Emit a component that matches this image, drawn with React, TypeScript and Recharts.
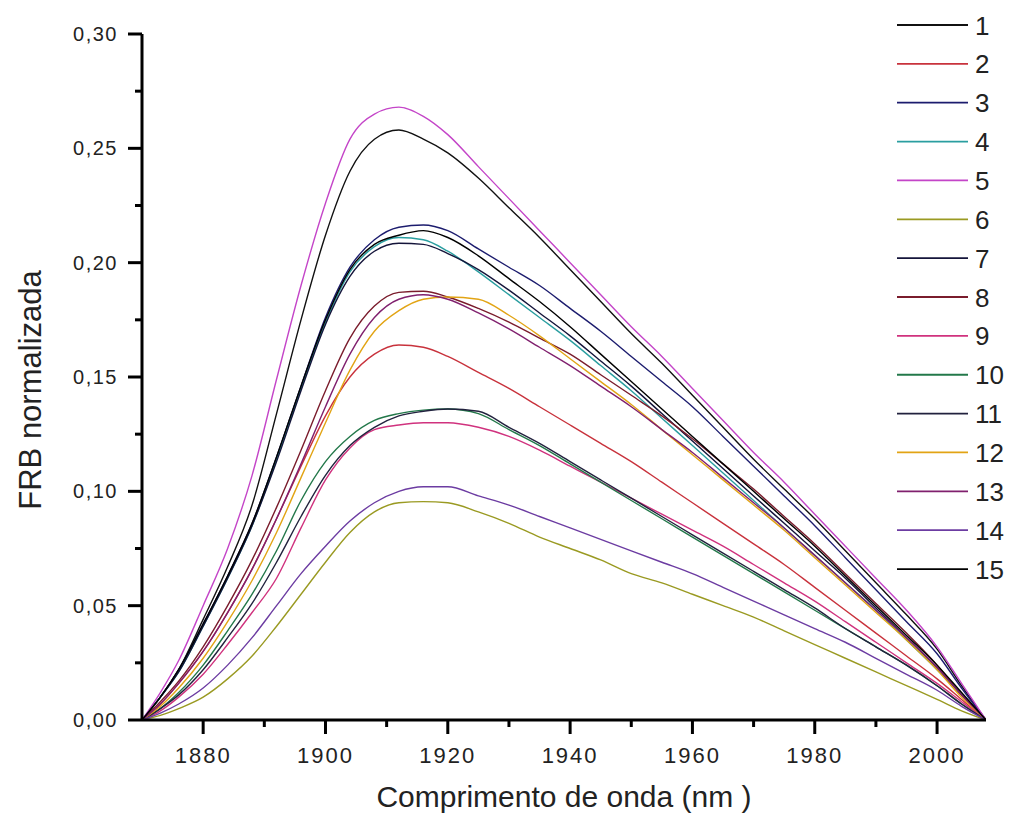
import React from 'react';
import { LineChart, Line, XAxis, YAxis, Legend, Label } from 'recharts';

const wavelengths = [1870, 1873, 1876, 1880, 1884, 1888, 1892, 1896, 1900, 1904, 1908, 1912, 1916, 1920, 1925, 1930, 1935, 1940, 1945, 1950, 1955, 1960, 1965, 1970, 1975, 1980, 1985, 1990, 1995, 2000, 2004, 2008];

const s1 = [0, 0.010, 0.022, 0.044, 0.067, 0.094, 0.134, 0.175, 0.212, 0.240, 0.254, 0.258, 0.254, 0.248, 0.237, 0.224, 0.211, 0.197, 0.183, 0.169, 0.156, 0.142, 0.128, 0.114, 0.101, 0.088, 0.074, 0.060, 0.046, 0.031, 0.015, 0];
const s2 = [0, 0.007, 0.016, 0.030, 0.047, 0.066, 0.088, 0.111, 0.133, 0.150, 0.160, 0.164, 0.163, 0.159, 0.152, 0.145, 0.137, 0.129, 0.121, 0.113, 0.104, 0.095, 0.086, 0.077, 0.068, 0.058, 0.048, 0.038, 0.028, 0.018, 0.009, 0];
const s3 = [0, 0.010, 0.022, 0.042, 0.063, 0.086, 0.115, 0.146, 0.176, 0.198, 0.210, 0.2155, 0.2165, 0.214, 0.206, 0.198, 0.190, 0.180, 0.170, 0.159, 0.148, 0.137, 0.124, 0.111, 0.098, 0.085, 0.071, 0.057, 0.043, 0.029, 0.014, 0];
const s4 = [0, 0.010, 0.021, 0.041, 0.062, 0.085, 0.114, 0.145, 0.174, 0.196, 0.207, 0.211, 0.210, 0.205, 0.196, 0.186, 0.176, 0.166, 0.155, 0.144, 0.132, 0.120, 0.108, 0.096, 0.084, 0.072, 0.060, 0.048, 0.035, 0.022, 0.011, 0];
const s5 = [0, 0.012, 0.026, 0.050, 0.075, 0.107, 0.149, 0.190, 0.226, 0.254, 0.265, 0.268, 0.264, 0.256, 0.242, 0.228, 0.214, 0.200, 0.186, 0.172, 0.159, 0.145, 0.131, 0.117, 0.104, 0.090, 0.076, 0.062, 0.048, 0.032, 0.016, 0];
const s6 = [0, 0.002, 0.005, 0.010, 0.018, 0.028, 0.041, 0.055, 0.069, 0.082, 0.091, 0.095, 0.0955, 0.095, 0.091, 0.086, 0.080, 0.075, 0.070, 0.064, 0.060, 0.055, 0.050, 0.045, 0.039, 0.033, 0.027, 0.021, 0.015, 0.009, 0.004, 0];
const s7 = [0, 0.010, 0.021, 0.041, 0.062, 0.085, 0.113, 0.144, 0.173, 0.194, 0.205, 0.2085, 0.208, 0.204, 0.197, 0.188, 0.178, 0.168, 0.157, 0.146, 0.134, 0.122, 0.110, 0.098, 0.086, 0.074, 0.062, 0.049, 0.036, 0.023, 0.011, 0];
const s8 = [0, 0.008, 0.017, 0.032, 0.050, 0.070, 0.093, 0.118, 0.144, 0.167, 0.181, 0.187, 0.1875, 0.185, 0.180, 0.174, 0.167, 0.160, 0.151, 0.142, 0.133, 0.123, 0.112, 0.101, 0.089, 0.077, 0.064, 0.051, 0.038, 0.024, 0.011, 0];
const s9 = [0, 0.004, 0.010, 0.020, 0.033, 0.047, 0.062, 0.084, 0.105, 0.119, 0.127, 0.129, 0.130, 0.130, 0.128, 0.124, 0.118, 0.111, 0.104, 0.097, 0.090, 0.083, 0.076, 0.068, 0.060, 0.052, 0.043, 0.034, 0.025, 0.016, 0.008, 0];
const s10 = [0, 0.005, 0.012, 0.024, 0.039, 0.055, 0.074, 0.096, 0.113, 0.124, 0.131, 0.134, 0.1355, 0.136, 0.134, 0.127, 0.120, 0.112, 0.104, 0.096, 0.088, 0.080, 0.072, 0.064, 0.056, 0.048, 0.040, 0.032, 0.024, 0.015, 0.007, 0];
const s11 = [0, 0.005, 0.011, 0.022, 0.036, 0.051, 0.069, 0.089, 0.107, 0.120, 0.128, 0.133, 0.135, 0.136, 0.135, 0.128, 0.121, 0.113, 0.105, 0.097, 0.089, 0.081, 0.073, 0.065, 0.057, 0.049, 0.040, 0.032, 0.024, 0.015, 0.007, 0];
const s12 = [0, 0.006, 0.014, 0.027, 0.043, 0.061, 0.082, 0.106, 0.130, 0.153, 0.170, 0.179, 0.184, 0.185, 0.184, 0.177, 0.168, 0.158, 0.148, 0.138, 0.127, 0.116, 0.105, 0.094, 0.083, 0.071, 0.059, 0.047, 0.035, 0.022, 0.010, 0];
const s13 = [0, 0.007, 0.016, 0.030, 0.047, 0.066, 0.088, 0.112, 0.137, 0.160, 0.176, 0.184, 0.186, 0.184, 0.178, 0.171, 0.163, 0.155, 0.146, 0.137, 0.127, 0.117, 0.106, 0.095, 0.084, 0.072, 0.060, 0.048, 0.036, 0.023, 0.011, 0];
const s14 = [0, 0.003, 0.007, 0.014, 0.024, 0.036, 0.050, 0.064, 0.076, 0.087, 0.095, 0.100, 0.102, 0.102, 0.098, 0.094, 0.089, 0.084, 0.079, 0.074, 0.069, 0.064, 0.058, 0.052, 0.046, 0.040, 0.034, 0.027, 0.020, 0.013, 0.006, 0];
const s15 = [0, 0.010, 0.022, 0.042, 0.063, 0.086, 0.115, 0.146, 0.175, 0.197, 0.208, 0.212, 0.214, 0.211, 0.203, 0.193, 0.183, 0.172, 0.160, 0.148, 0.136, 0.124, 0.112, 0.100, 0.088, 0.076, 0.063, 0.050, 0.037, 0.024, 0.012, 0];

const seriesNames = ['1', '2', '3', '4', '5', '6', '7', '8', '9', '10', '11', '12', '13', '14', '15'];
const seriesValues = [s1, s2, s3, s4, s5, s6, s7, s8, s9, s10, s11, s12, s13, s14, s15];
const seriesColors = ['#111111', '#c8323c', '#1c1c6e', '#2a9ea0', '#c445c8', '#9a9a22', '#14143a', '#7a1c2c', '#d0327e', '#23784a', '#22223e', '#e2a414', '#80206e', '#6c3ca2', '#000000'];

const xMajorTicks = [1880, 1900, 1920, 1940, 1960, 1980, 2000];
const xMinorTicks = [1890, 1910, 1930, 1950, 1970, 1990];
const yMajorTicks = [0, 0.05, 0.1, 0.15, 0.2, 0.25, 0.3];
const yMinorTicks = [0.025, 0.075, 0.125, 0.175, 0.225, 0.275];

const xTitle = 'Comprimento de onda (nm )';
const yTitle = 'FRB normalizada';

const data = wavelengths.map((w, i) => {
  const row: Record<string, number> = { w };
  seriesValues.forEach((vals, k) => {
    row['s' + (k + 1)] = vals[i];
  });
  return row;
});

const FONT = "'Liberation Sans', Arial, sans-serif";

const XTick = (props: any) => {
  const { x, y, payload } = props;
  const major = xMajorTicks.includes(payload.value);
  return (
    <g>
      <line x1={x} x2={x} y1={y} y2={y + (major ? 14 : 7)} stroke="#000" strokeWidth={3} />
      {major && (
        <text x={x} y={y + 43} textAnchor="middle" fontSize={22} fill="#222" fontFamily={FONT} letterSpacing={2}>
          {payload.value}
        </text>
      )}
    </g>
  );
};

const YTick = (props: any) => {
  const { x, y, payload } = props;
  const major = yMajorTicks.some((t) => Math.abs(t - payload.value) < 1e-6);
  return (
    <g>
      <line x1={x} x2={x - (major ? 14 : 7)} y1={y} y2={y} stroke="#000" strokeWidth={3} />
      {major && (
        <text x={x - 24} y={y + 7} textAnchor="end" fontSize={20} fill="#222" fontFamily={FONT} letterSpacing={1.5}>
          {payload.value.toFixed(2).replace('.', ',')}
        </text>
      )}
    </g>
  );
};

const renderLegend = () => (
  <svg width={129} height={600} style={{ display: 'block' }}>
    {seriesNames.map((name, i) => {
      const y = 25 + i * 38.86;
      return (
        <g key={name}>
          <line x1={17} x2={88} y1={y} y2={y} stroke={seriesColors[i]} strokeWidth={1.8} />
          <text x={95} y={y + 9.5} fontSize={26} fill="#222" fontFamily={FONT}>
            {name}
          </text>
        </g>
      );
    })}
  </svg>
);

export default function App() {
  return (
    <div style={{ position: 'absolute', left: 0, top: 0, background: '#fff' }}>
      <LineChart width={1009} height={818} data={data} margin={{ top: 34, right: 23, left: 0, bottom: 0 }}>
        <XAxis
          dataKey="w"
          type="number"
          domain={[1870, 2008]}
          ticks={[...xMajorTicks, ...xMinorTicks]}
          allowDataOverflow
          height={98}
          tickSize={0}
          tickMargin={0}
          tickLine={false}
          axisLine={{ stroke: '#000', strokeWidth: 3 }}
          tick={<XTick />}
          interval={0}
        >
          <Label value={xTitle} position="insideBottom" offset={11} fontSize={30} fill="#222" fontFamily={FONT} />
        </XAxis>
        <YAxis
          type="number"
          domain={[0, 0.3]}
          ticks={[...yMajorTicks, ...yMinorTicks]}
          allowDataOverflow
          width={142}
          tickSize={0}
          tickMargin={0}
          tickLine={false}
          axisLine={{ stroke: '#000', strokeWidth: 3 }}
          tick={<YTick />}
          interval={0}
        >
          <Label
            content={() => (
              <text x={30} y={390} transform="rotate(-90, 30, 390)" textAnchor="middle" dominantBaseline="central" fontSize={31} fill="#222" fontFamily={FONT}>
                {yTitle}
              </text>
            )}
          />
        </YAxis>
        <Legend
          layout="vertical"
          align="center"
          verticalAlign="middle"
          content={renderLegend}
          wrapperStyle={{ left: 880, top: 0, width: 129, height: 600 }}
        />
        {seriesNames.map((name, i) => (
          <Line
            key={name}
            type="monotone"
            dataKey={'s' + (i + 1)}
            name={name}
            stroke={seriesColors[i]}
            strokeWidth={1.4}
            dot={false}
            activeDot={false}
            isAnimationActive={false}
          />
        ))}
      </LineChart>
    </div>
  );
}
